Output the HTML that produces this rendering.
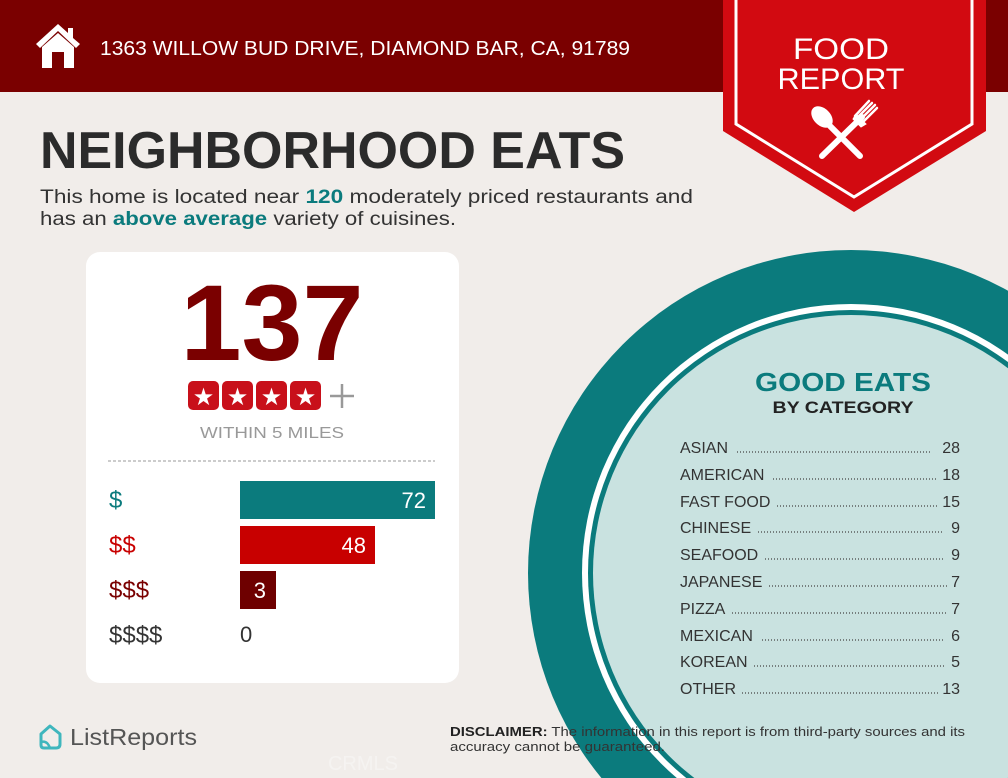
<!DOCTYPE html>
<html><head><meta charset="utf-8"><style>
html,body{margin:0;padding:0;background:#f1edea;width:1008px;height:778px;overflow:hidden;}
svg{display:block;}
text{font-family:"Liberation Sans",sans-serif;}
</style></head><body>
<svg width="1008" height="778" viewBox="0 0 1008 778" xmlns="http://www.w3.org/2000/svg">
<defs><clipPath id="pg"><rect x="0" y="0" width="1008" height="778"/></clipPath></defs>
<rect width="1008" height="778" fill="#f1edea"/>
<g clip-path="url(#pg)">
<circle cx="851" cy="573" r="323" fill="#0b7b7d"/>
<circle cx="851" cy="573" r="269" fill="#ffffff"/>
<circle cx="851" cy="573" r="263" fill="#0b7b7d"/>
<circle cx="851" cy="573" r="258" fill="#c9e2e0"/>
</g>
<rect x="0" y="0" width="1008" height="92" fill="#7a0000"/>
<path d="M58 24 L36 44 L40 48 L58 31 L76 48 L80 44 L73 38 L73 28 L68 28 L68 33 Z" fill="#fff"/>
<path d="M42 47 L58 33 L74 47 L74 68 L64 68 L64 52 L52 52 L52 68 L42 68 Z" fill="#fff"/>
<text x="100" y="55" font-size="20" fill="#fff" textLength="530" lengthAdjust="spacingAndGlyphs">1363 WILLOW BUD DRIVE, DIAMOND BAR, CA, 91789</text>
<path d="M723 0 L986 0 L986 131 L854 212 L723 131 Z" fill="#d20a11"/>
<path d="M736 0 L736 124 L854 197 L972 124 L972 0" fill="none" stroke="#fff" stroke-width="3"/>
<text x="841" y="59" font-size="30" fill="#fff" text-anchor="middle" textLength="96" lengthAdjust="spacingAndGlyphs">FOOD</text>
<text x="841" y="89" font-size="30" fill="#fff" text-anchor="middle" textLength="127" lengthAdjust="spacingAndGlyphs">REPORT</text>
<g fill="#fff" stroke="#fff" stroke-linecap="round">
<ellipse cx="822" cy="117" rx="8" ry="12" transform="rotate(-45 822 117)"/>
<line x1="826" y1="122" x2="860" y2="156" stroke-width="6"/>
<line x1="862" y1="117" x2="822" y2="156" stroke-width="6"/>
<path d="M857 118 L872 103 M859 121 L875 105 M861 124 L877 108 M855 116 L869 101" stroke-width="2.5" fill="none"/>
<path d="M856 114 L866 124 L861 127 L853 119 Z"/>
</g>
<text x="40" y="168" font-size="52" font-weight="bold" fill="#2b2b2b" textLength="585" lengthAdjust="spacingAndGlyphs">NEIGHBORHOOD EATS</text>
<text x="40" y="203" font-size="19" fill="#333" textLength="653" lengthAdjust="spacingAndGlyphs">This home is located near <tspan fill="#0b7b7d" font-weight="bold">120</tspan> moderately priced restaurants and</text>
<text x="40" y="225" font-size="19" fill="#333" textLength="416" lengthAdjust="spacingAndGlyphs">has an <tspan fill="#0b7b7d" font-weight="bold">above average</tspan> variety of cuisines.</text>
<rect x="86" y="252" width="373" height="431" rx="14" fill="#fff"/>
<text x="272" y="360" font-size="108" font-weight="bold" fill="#7a0000" text-anchor="middle" textLength="183" lengthAdjust="spacingAndGlyphs">137</text>
<g fill="#c8101a">
<rect x="188" y="381" width="31" height="29" rx="5"/>
<rect x="222" y="381" width="31" height="29" rx="5"/>
<rect x="256" y="381" width="31" height="29" rx="5"/>
<rect x="290" y="381" width="31" height="29" rx="5"/>
</g>
<g fill="#fff" font-size="24">
<text x="203.5" y="405" text-anchor="middle">★</text>
<text x="237.5" y="405" text-anchor="middle">★</text>
<text x="271.5" y="405" text-anchor="middle">★</text>
<text x="305.5" y="405" text-anchor="middle">★</text>
</g>
<path d="M342 384 L342 408 M330 396 L354 396" stroke="#999" stroke-width="2.5"/>
<text x="272" y="438" font-size="16" fill="#999" text-anchor="middle" textLength="144" lengthAdjust="spacingAndGlyphs">WITHIN 5 MILES</text>
<line x1="108" y1="461" x2="435" y2="461" stroke="#999" stroke-dasharray="3 2" stroke-width="1"/>
<rect x="240" y="481" width="195" height="38" fill="#0b7b7d"/>
<rect x="240" y="526" width="135" height="38" fill="#c80000"/>
<rect x="240" y="571" width="36" height="38" fill="#6e0000"/>
<g font-size="22" fill="#fff" text-anchor="end">
<text x="426" y="508">72</text>
<text x="366" y="553">48</text>
<text x="266" y="598">3</text>
</g>
<text x="240" y="642" font-size="22" fill="#333">0</text>
<g font-size="24">
<text x="109" y="508" fill="#0b7b7d">$</text>
<text x="109" y="553" fill="#c80000">$$</text>
<text x="109" y="598" fill="#7a0000">$$$</text>
<text x="109" y="643" fill="#333">$$$$</text>
</g>
<text x="843" y="391" font-size="26" font-weight="bold" fill="#0b7b7d" text-anchor="middle" textLength="176" lengthAdjust="spacingAndGlyphs">GOOD EATS</text>
<text x="843" y="413" font-size="17" font-weight="bold" fill="#222" text-anchor="middle" textLength="141" lengthAdjust="spacingAndGlyphs">BY CATEGORY</text>
<g font-size="16" fill="#333">
<text x="680" y="453">ASIAN</text><text x="960" y="453" text-anchor="end">28</text>
<text x="680" y="480">AMERICAN</text><text x="960" y="480" text-anchor="end">18</text>
<text x="680" y="507">FAST FOOD</text><text x="960" y="507" text-anchor="end">15</text>
<text x="680" y="533">CHINESE</text><text x="960" y="533" text-anchor="end">9</text>
<text x="680" y="560">SEAFOOD</text><text x="960" y="560" text-anchor="end">9</text>
<text x="680" y="587">JAPANESE</text><text x="960" y="587" text-anchor="end">7</text>
<text x="680" y="614">PIZZA</text><text x="960" y="614" text-anchor="end">7</text>
<text x="680" y="641">MEXICAN</text><text x="960" y="641" text-anchor="end">6</text>
<text x="680" y="667">KOREAN</text><text x="960" y="667" text-anchor="end">5</text>
<text x="680" y="694">OTHER</text><text x="960" y="694" text-anchor="end">13</text>
</g>
<g stroke="#444" stroke-width="1.2" stroke-dasharray="1 2">
<line x1="737" y1="452" x2="932" y2="452"/>
<line x1="773" y1="479" x2="937" y2="479"/>
<line x1="777" y1="506" x2="937" y2="506"/>
<line x1="758" y1="532" x2="944" y2="532"/>
<line x1="765" y1="559" x2="944" y2="559"/>
<line x1="769" y1="586" x2="947" y2="586"/>
<line x1="732" y1="613" x2="947" y2="613"/>
<line x1="762" y1="640" x2="944" y2="640"/>
<line x1="754" y1="666" x2="944" y2="666"/>
<line x1="742" y1="693" x2="940" y2="693"/>
</g>
<text x="450" y="736" font-size="13" fill="#333" textLength="515" lengthAdjust="spacingAndGlyphs"><tspan font-weight="bold" fill="#222">DISCLAIMER:</tspan> The information in this report is from third-party sources and its</text>
<text x="450" y="751" font-size="13" fill="#333" textLength="215" lengthAdjust="spacingAndGlyphs">accuracy cannot be guaranteed.</text>
<path d="M50 726 L60 734 L60 744 Q60 748 56 748 L44 748 Q41 748 41 745 L41 734 Z" fill="none" stroke="#3fb6bd" stroke-width="3" stroke-linejoin="round"/>
<path d="M41 742 Q47 740 50 748" fill="none" stroke="#3fb6bd" stroke-width="2.5"/>
<text x="70" y="745" font-size="23" fill="#555" textLength="127" lengthAdjust="spacingAndGlyphs">ListReports</text>
<text x="363" y="770" font-size="20" fill="#ffffff" opacity="0.35" text-anchor="middle">CRMLS</text>
</svg>
</body></html>
